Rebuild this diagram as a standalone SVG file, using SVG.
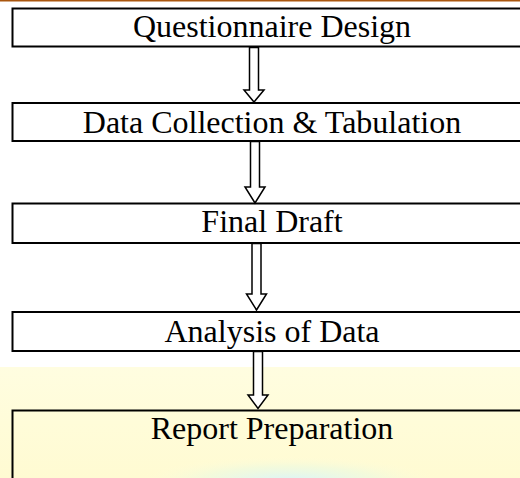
<svg xmlns="http://www.w3.org/2000/svg" width="520" height="478" viewBox="0 0 520 478">
  <style>
    .box { fill: #ffffff; stroke: #000000; stroke-width: 2; }
    .box-open { fill: none; stroke: #000000; stroke-width: 2; }
    .label { font-family: "Liberation Serif", "Times New Roman", serif; font-size: 32px; fill: #000000; text-anchor: middle; }
    .arrow { fill: #ffffff; stroke: #000000; stroke-width: 1.5; stroke-linejoin: miter; }
  </style>
  <defs>
    <linearGradient id="bgYellow" x1="0" y1="0" x2="0" y2="1">
      <stop offset="0" stop-color="#fffde0"/>
      <stop offset="1" stop-color="#fffbd2"/>
    </linearGradient>
    <radialGradient id="glow" cx="0.5" cy="0.5" r="0.5">
      <stop offset="0" stop-color="#d8f4fb"/>
      <stop offset="0.6" stop-color="#eefadf" stop-opacity="0.7"/>
      <stop offset="1" stop-color="#fffbd8" stop-opacity="0"/>
    </radialGradient>
  </defs>

  <!-- background -->
  <rect x="0" y="0" width="520" height="478" fill="#ffffff"/>
  <rect x="0" y="367" width="520" height="111" fill="url(#bgYellow)"/>
  <ellipse cx="290" cy="482" rx="150" ry="26" fill="url(#glow)"/>
  <rect x="0" y="0" width="520" height="1.5" fill="#a9560e"/>

  <g id="node-questionnaire">
    <rect class="box" x="12.5" y="8.5" width="520" height="38"/>
    <text class="label" x="272" y="37">Questionnaire Design</text>
  </g>
  <g id="node-data-collection">
    <rect class="box" x="12.5" y="103" width="520" height="38"/>
    <text class="label" x="272" y="133">Data Collection &amp; Tabulation</text>
  </g>
  <g id="node-final-draft">
    <rect class="box" x="12.5" y="203.5" width="520" height="39.5"/>
    <text class="label" x="272" y="232">Final Draft</text>
  </g>
  <g id="node-analysis">
    <rect class="box" x="12.5" y="312" width="520" height="39"/>
    <text class="label" x="272" y="342">Analysis of Data</text>
  </g>
  <g id="node-report">
    <rect class="box-open" x="12.5" y="410.5" width="520" height="80"/>
    <text class="label" x="272" y="439">Report Preparation</text>
  </g>

  <g id="connectors">
    <path class="arrow" d="M249.5,47.5 L258.5,47.5 L258.5,90 L264,90 L254,102 L244,90 L249.5,90 Z"/>
    <path class="arrow" d="M250.5,141.5 L259.5,141.5 L259.5,187 L265,187 L255,203 L245,187 L250.5,187 Z"/>
    <path class="arrow" d="M252,243.5 L261,243.5 L261,294 L266.5,294 L256.5,310 L246.5,294 L252,294 Z"/>
    <path class="arrow" d="M253.5,351.5 L262.5,351.5 L262.5,395 L268,395 L258,408.5 L248,395 L253.5,395 Z"/>
  </g>
</svg>
